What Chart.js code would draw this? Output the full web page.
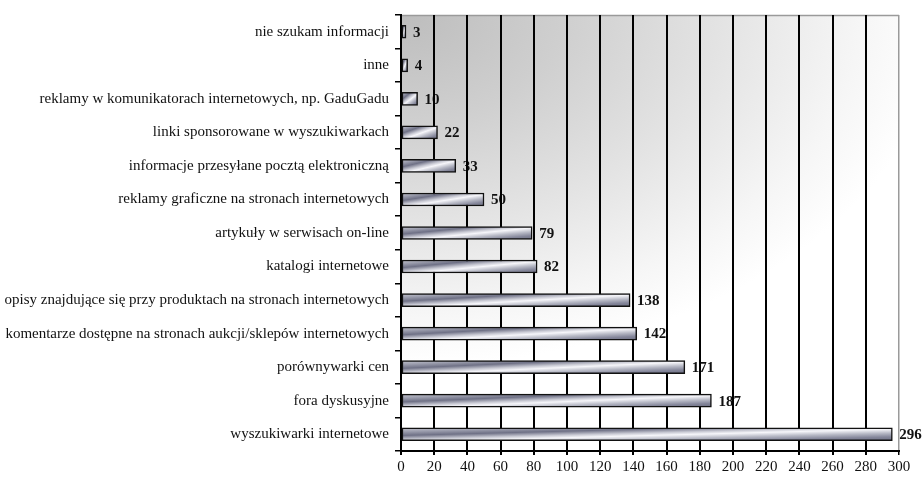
<!DOCTYPE html>
<html>
<head>
<meta charset="utf-8">
<script src="https://cdn.jsdelivr.net/npm/chart.js@4/dist/chart.umd.min.js"></script>
<style>
  html, body { margin: 0; padding: 0; background: #ffffff; }
  #wrap { width: 923px; height: 479px; }
</style>
</head>
<body>
<div id="wrap"><canvas id="c" width="923" height="479"></canvas></div>
<script>
// Źródła informacji o produktach (liczba wskazań)
const categories = [
  'nie szukam informacji',
  'inne',
  'reklamy w komunikatorach internetowych, np. GaduGadu',
  'linki sponsorowane w wyszukiwarkach',
  'informacje przesyłane pocztą elektroniczną',
  'reklamy graficzne na stronach internetowych',
  'artykuły w serwisach on-line',
  'katalogi internetowe',
  'opisy znajdujące się przy produktach na stronach internetowych',
  'komentarze dostępne na stronach aukcji/sklepów internetowych',
  'porównywarki cen',
  'fora dyskusyjne',
  'wyszukiwarki internetowe'
];
const counts = [3, 4, 10, 22, 33, 50, 79, 82, 138, 142, 171, 187, 296];
const xMin = 0;
const xMax = 300;
const xStep = 20;

const SERIF = '"Liberation Serif", "Times New Roman", serif';
const BAR_THICKNESS = 13;

// Metallic fill whose gradient stretches with each bar (diagonal corner to corner)
function metalFill(c) {
  const chart = c.chart;
  const xs = chart.scales.x, ys = chart.scales.y;
  const fallback = '#a4a6b2';
  if (!xs || !ys || c.dataIndex === undefined || typeof c.raw !== 'number') return fallback;
  const x0 = xs.getPixelForValue(0);
  const x1 = xs.getPixelForValue(c.raw);
  const yc = ys.getPixelForValue(c.dataIndex);
  if (![x0, x1, yc].every(Number.isFinite)) return fallback;
  const h = BAR_THICKNESS;
  const w = Math.max(1, x1 - x0);
  const top = yc - h / 2;
  const k = 2 * w * h / (w * w + h * h);
  const g = chart.ctx.createLinearGradient(x0, top, x0 + h * k, top + w * k);
  g.addColorStop(0.00, '#c4c5cf');
  g.addColorStop(0.15, '#9c9eae');
  g.addColorStop(0.30, '#6f7186');
  g.addColorStop(0.45, '#c8c9d3');
  g.addColorStop(0.55, '#f6f6fa');
  g.addColorStop(0.70, '#b8bac6');
  g.addColorStop(0.85, '#84869a');
  g.addColorStop(1.00, '#6c6e82');
  return g;
}

// Plot-area shading, value labels (painted before the grid so grid lines cross them) and frame
const backdrop = {
  id: 'backdrop',
  beforeDraw(chart) {
    const { ctx, chartArea: a } = chart;
    ctx.save();
    ctx.beginPath();
    ctx.rect(a.left, a.top, a.right - a.left, a.bottom - a.top);
    ctx.clip();
    ctx.translate(a.left, a.top);
    ctx.scale(1, 0.65);
    const g = ctx.createRadialGradient(0, 0, 0, 0, 0, 540);
    g.addColorStop(0.0, '#bdbdbd');
    g.addColorStop(0.3, '#cfcfcf');
    g.addColorStop(0.6, '#e4e4e4');
    g.addColorStop(0.85, '#f6f6f6');
    g.addColorStop(1.0, '#ffffff');
    ctx.fillStyle = g;
    ctx.fillRect(0, 0, 2000, 2000);
    ctx.restore();

    // top frame line
    ctx.save();
    ctx.strokeStyle = '#9a9a9a';
    ctx.lineWidth = 1.5;
    ctx.beginPath();
    ctx.moveTo(a.left, a.top + 0.5);
    ctx.lineTo(a.right, a.top + 0.5);
    ctx.stroke();
    ctx.restore();

    // value labels
    const xs = chart.scales.x, ys = chart.scales.y;
    ctx.save();
    ctx.font = 'bold 15px ' + SERIF;
    ctx.fillStyle = '#111111';
    ctx.textAlign = 'left';
    ctx.textBaseline = 'middle';
    counts.forEach((v, i) => {
      ctx.fillText(String(v), xs.getPixelForValue(v) + 7, ys.getPixelForValue(i) + 1);
    });
    ctx.restore();
  }
};

const chart = new Chart(document.getElementById('c'), {
  type: 'bar',
  data: {
    labels: categories,
    datasets: [{
      data: counts,
      backgroundColor: metalFill,
      borderColor: '#111111',
      borderWidth: 1.5,
      borderSkipped: false,
      barThickness: BAR_THICKNESS
    }]
  },
  options: {
    indexAxis: 'y',
    responsive: false,
    animation: false,
    events: [],
    layout: { padding: { top: 12, right: 24, left: 0, bottom: 0 } },
    plugins: {
      legend: { display: false },
      tooltip: { enabled: false }
    },
    scales: {
      x: {
        min: xMin,
        max: xMax,
        afterFit(s) { s.height = 28; },
        ticks: {
          stepSize: xStep,
          color: '#111111',
          padding: 3,
          font: { family: SERIF, size: 15 }
        },
        grid: {
          color: c => (c.tick && c.tick.value === xMax) ? '#9a9a9a' : '#000000',
          lineWidth: c => (c.tick && c.tick.value === xMax) ? 1.5 : 2,
          tickLength: 4,
          tickColor: '#000000',
          drawTicks: true
        },
        border: { display: true, color: '#000000', width: 2 }
      },
      y: {
        afterFit(s) { s.width = 401; },
        ticks: {
          color: '#111111',
          padding: 6,
          autoSkip: false,
          font: { family: SERIF, size: 15 }
        },
        grid: {
          offset: true,
          drawOnChartArea: false,
          drawTicks: true,
          tickLength: 6,
          tickColor: '#000000',
          lineWidth: 1.5
        },
        border: { display: true, color: '#000000', width: 2 }
      }
    }
  },
  plugins: [backdrop]
});
// second pass so bar fills are built from the final scale geometry
chart.update('none');
</script>
</body>
</html>
